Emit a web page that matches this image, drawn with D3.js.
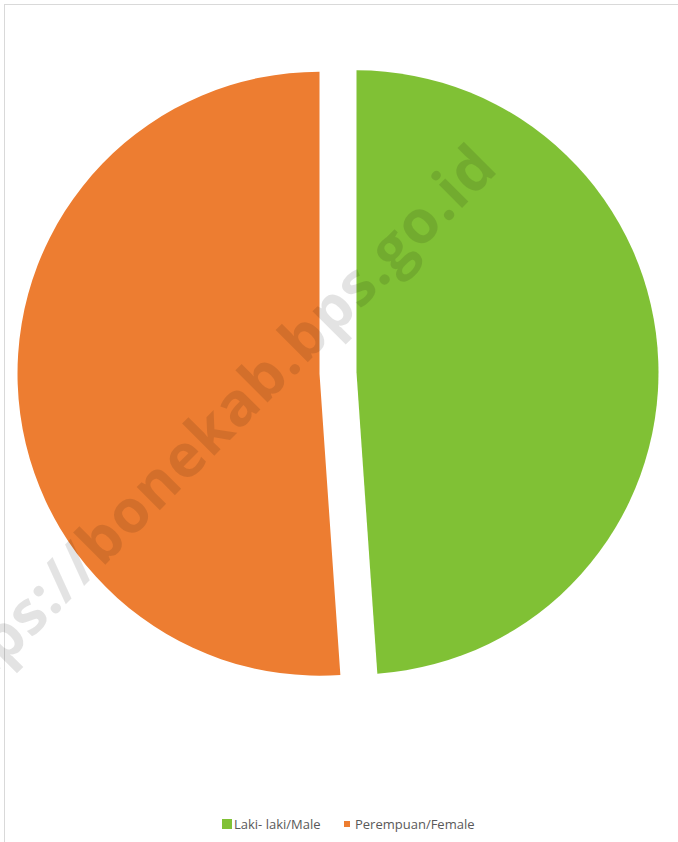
<!DOCTYPE html>
<html>
<head>
<meta charset="utf-8">
<script src="https://cdn.jsdelivr.net/npm/d3@7"></script>
<style>
  body { margin: 0; background: #fff; }
  svg { display: block; }
</style>
</head>
<body>
<script>
const width = 678, height = 842;

// data (share of population, %)
const categories = ["Laki- laki/Male", "Perempuan/Female"];
const values = [48.9, 51.1];
const colors = ["#80C135", "#ED7D31"];

const cx = 338, cy = 373, radius = 302, explode = 18.5;

const svg = d3.select("body").append("svg")
    .attr("width", width)
    .attr("height", height);

// chart area frame
svg.append("rect")
    .attr("x", 4.5).attr("y", 4.5)
    .attr("width", width + 20).attr("height", height + 20)
    .attr("fill", "#fff")
    .attr("stroke", "#d9d9d9");

const pie = d3.pie().sort(null).value(d => d);
const arcs = pie(values);
const arc = d3.arc().innerRadius(0).outerRadius(radius);

const pieGroup = svg.append("g")
    .attr("transform", `translate(${cx},${cy})`);

// exploded slices, each pushed out along its bisector
pieGroup.selectAll("path")
    .data(arcs)
    .join("path")
    .attr("d", arc)
    .attr("fill", (d, i) => colors[i])
    .attr("transform", d => {
        const mid = (d.startAngle + d.endAngle) / 2;
        return `translate(${explode * Math.sin(mid)},${-explode * Math.cos(mid)})`;
    });

// legend
const legend = svg.append("g")
    .style("font-family", "'Open Sans', sans-serif")
    .style("font-size", "13px")
    .attr("fill", "#595959");

const legendItems = [
    { x: 222, y: 819, size: 10, textX: 234 },
    { x: 344, y: 821, size: 6, textX: 355 }
];

legendItems.forEach((it, i) => {
    legend.append("rect")
        .attr("x", it.x).attr("y", it.y)
        .attr("width", it.size).attr("height", it.size)
        .attr("fill", colors[i]);
    legend.append("text")
        .attr("x", it.textX).attr("y", 829)
        .text(categories[i]);
});

// watermark
svg.append("text")
    .attr("transform", "translate(500,170) rotate(-45)")
    .attr("text-anchor", "end")
    .style("font-family", "'Open Sans', sans-serif")
    .style("font-weight", "bold")
    .style("font-size", "60px")
    .style("letter-spacing", "1px")
    .attr("fill", "#000")
    .attr("fill-opacity", 0.11)
    .text("https://bonekab.bps.go.id");
</script>
</body>
</html>
